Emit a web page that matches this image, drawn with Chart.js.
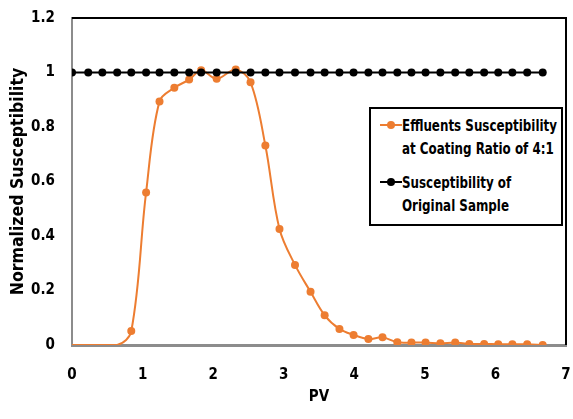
<!DOCTYPE html>
<html>
<head>
<meta charset="utf-8">
<script src="https://cdn.jsdelivr.net/npm/chart.js@4/dist/chart.umd.min.js"></script>
<style>
  html, body { margin: 0; padding: 0; background: #fff; }
  #wrap { position: relative; width: 573px; height: 419px; }
  canvas { display: block; }
  #legend {
    position: absolute; left: 369px; top: 107px; width: 194px; height: 119px;
    border: 2px solid #000; background: #fff; box-sizing: border-box;
    font-family: "Liberation Sans Narrow", "DejaVu Sans Condensed", sans-serif;
    font-weight: bold; font-size: 16px; color: #000;
  }
  .item { position: absolute; left: 9px; }
  .mark { position: absolute; left: 0; top: 10px; width: 22px; height: 2px; }
  .mark i { position: absolute; left: 7px; top: -3px; width: 8px; height: 8px; border-radius: 50%; }
  .txt { position: absolute; left: 22px; top: 0; line-height: 23px; white-space: nowrap; transform-origin: 0 0; }
</style>
</head>
<body>
<div id="wrap">
  <canvas id="c" width="573" height="419"></canvas>
  <div id="legend"></div>
</div>
<script>
// ---- data ----
const xTitle = "PV";
const yTitle = "Normalized Susceptibility";
const effluentLabel = ["Effluents Susceptibility", "at Coating Ratio of 4:1"];
const originalLabel = ["Susceptibility of", "Original Sample"];

const effluentPV = [0, 0.64, 0.84, 1.05, 1.24, 1.45, 1.66, 1.83, 2.05, 2.32, 2.53, 2.74, 2.94, 3.16, 3.38, 3.58, 3.79, 3.99, 4.20, 4.40, 4.61, 4.81, 5.01, 5.22, 5.43, 5.63, 5.84, 6.04, 6.24, 6.45, 6.67];
const effluentValues = [0, 0, 0.051, 0.56, 0.894, 0.944, 0.974, 1.008, 0.977, 1.011, 0.964, 0.732, 0.426, 0.294, 0.195, 0.109, 0.059, 0.037, 0.022, 0.028, 0.010, 0.009, 0.009, 0.006, 0.009, 0.004, 0.004, 0.003, 0.003, 0.003, 0.0];
const effluentMarked = [false, false, true, true, true, true, true, true, true, true, true, true, true, true, true, true, true, true, true, true, true, true, true, true, true, true, true, true, true, true, true];

const originalPV = [0, 0.23, 0.43, 0.64, 0.84, 1.05, 1.24, 1.45, 1.66, 1.83, 2.05, 2.32, 2.53, 2.74, 2.94, 3.16, 3.38, 3.58, 3.79, 3.99, 4.20, 4.40, 4.61, 4.81, 5.01, 5.22, 5.43, 5.63, 5.84, 6.04, 6.24, 6.45, 6.67];
const originalValues = [1, 1, 1, 1, 1, 1, 1, 1, 1, 1, 1, 1, 1, 1, 1, 1, 1, 1, 1, 1, 1, 1, 1, 1, 1, 1, 1, 1, 1, 1, 1, 1, 1];

const xMin = 0, xMax = 7, xStep = 1;
const yMin = 0, yMax = 1.2, yStep = 0.2;

// ---- styles ----
const ORANGE = "#ED7D31";
const BLACK = "#000000";
const FONT = "'Liberation Sans Narrow', 'DejaVu Sans Condensed', sans-serif";

const pts = (xs, ys) => xs.map((x, i) => ({ x: x, y: ys[i] }));

const frame = {
  id: "frame",
  afterDatasetsDraw(chart) {
    const a = chart.chartArea, ctx = chart.ctx;
    ctx.save();
    ctx.strokeStyle = "#000";
    ctx.lineWidth = 2;
    ctx.beginPath();
    ctx.moveTo(a.left, a.top);
    ctx.lineTo(a.right, a.top);
    ctx.lineTo(a.right, a.bottom);
    ctx.stroke();
    ctx.restore();
  }
};

new Chart(document.getElementById("c"), {
  type: "line",
  data: {
    datasets: [
      {
        label: effluentLabel.join(" "),
        data: pts(effluentPV, effluentValues),
        borderColor: ORANGE, backgroundColor: ORANGE,
        borderWidth: 2, tension: 0.35,
        pointRadius: ctx => effluentMarked[ctx.dataIndex] ? 4 : 0,
        pointBorderWidth: 0,
        order: 1
      },
      {
        label: originalLabel.join(" "),
        data: pts(originalPV, originalValues),
        borderColor: BLACK, backgroundColor: BLACK,
        borderWidth: 2, tension: 0,
        pointRadius: 4, pointBorderWidth: 0,
        order: 0
      }
    ]
  },
  options: {
    responsive: false, animation: false,
    layout: { padding: { left: 0, right: 7, top: 18, bottom: 0 } },
    plugins: { legend: { display: false }, tooltip: { enabled: false } },
    scales: {
      x: {
        type: "linear", min: xMin, max: xMax,
        grid: { display: false },
        border: { display: true, color: "#8c8c8c", width: 3 },
        ticks: { stepSize: xStep, color: "#000", padding: 13, font: { family: FONT, size: 15, weight: "bold" } },
        title: { display: true, text: xTitle, color: "#000", padding: { top: 0, bottom: 13 }, font: { family: FONT, size: 15, weight: "bold" } },
        afterFit: s => { s.height = 74; s.paddingLeft = 0; s.paddingRight = 0; }
      },
      y: {
        min: yMin, max: yMax,
        grid: { display: false },
        border: { display: true, color: "#8c8c8c", width: 2 },
        ticks: {
          stepSize: yStep, color: "#000", padding: 9,
          font: { family: FONT, size: 15, weight: "bold" },
          callback: v => String(+v.toFixed(1))
        },
        title: { display: true, text: yTitle, color: "#000", padding: { top: 8, bottom: 0 }, font: { family: FONT, size: 17.5, weight: "bold" } },
        afterFit: s => { s.width = 72; s.paddingTop = 0; s.paddingBottom = 0; }
      }
    }
  },
  plugins: [frame]
});

// ---- HTML legend ----
const legend = document.getElementById("legend");
const txts = [];
[[effluentLabel, ORANGE, 5], [originalLabel, BLACK, 62]].forEach(([lines, col, top]) => {
  const it = document.createElement("div");
  it.className = "item"; it.style.top = top + "px";
  const m = document.createElement("div");
  m.className = "mark"; m.style.background = col;
  const d = document.createElement("i"); d.style.background = col; m.appendChild(d);
  const t = document.createElement("div");
  t.className = "txt"; t.innerHTML = lines.join("<br>");
  it.appendChild(m); it.appendChild(t);
  legend.appendChild(it);
  txts.push(t);
});
// fit the longest legend line to the reference width
const w0 = txts[0].getBoundingClientRect().width;
const sx = 155 / w0;
txts.forEach(t => { t.style.transform = "scaleX(" + sx + ")"; });
</script>
</body>
</html>
